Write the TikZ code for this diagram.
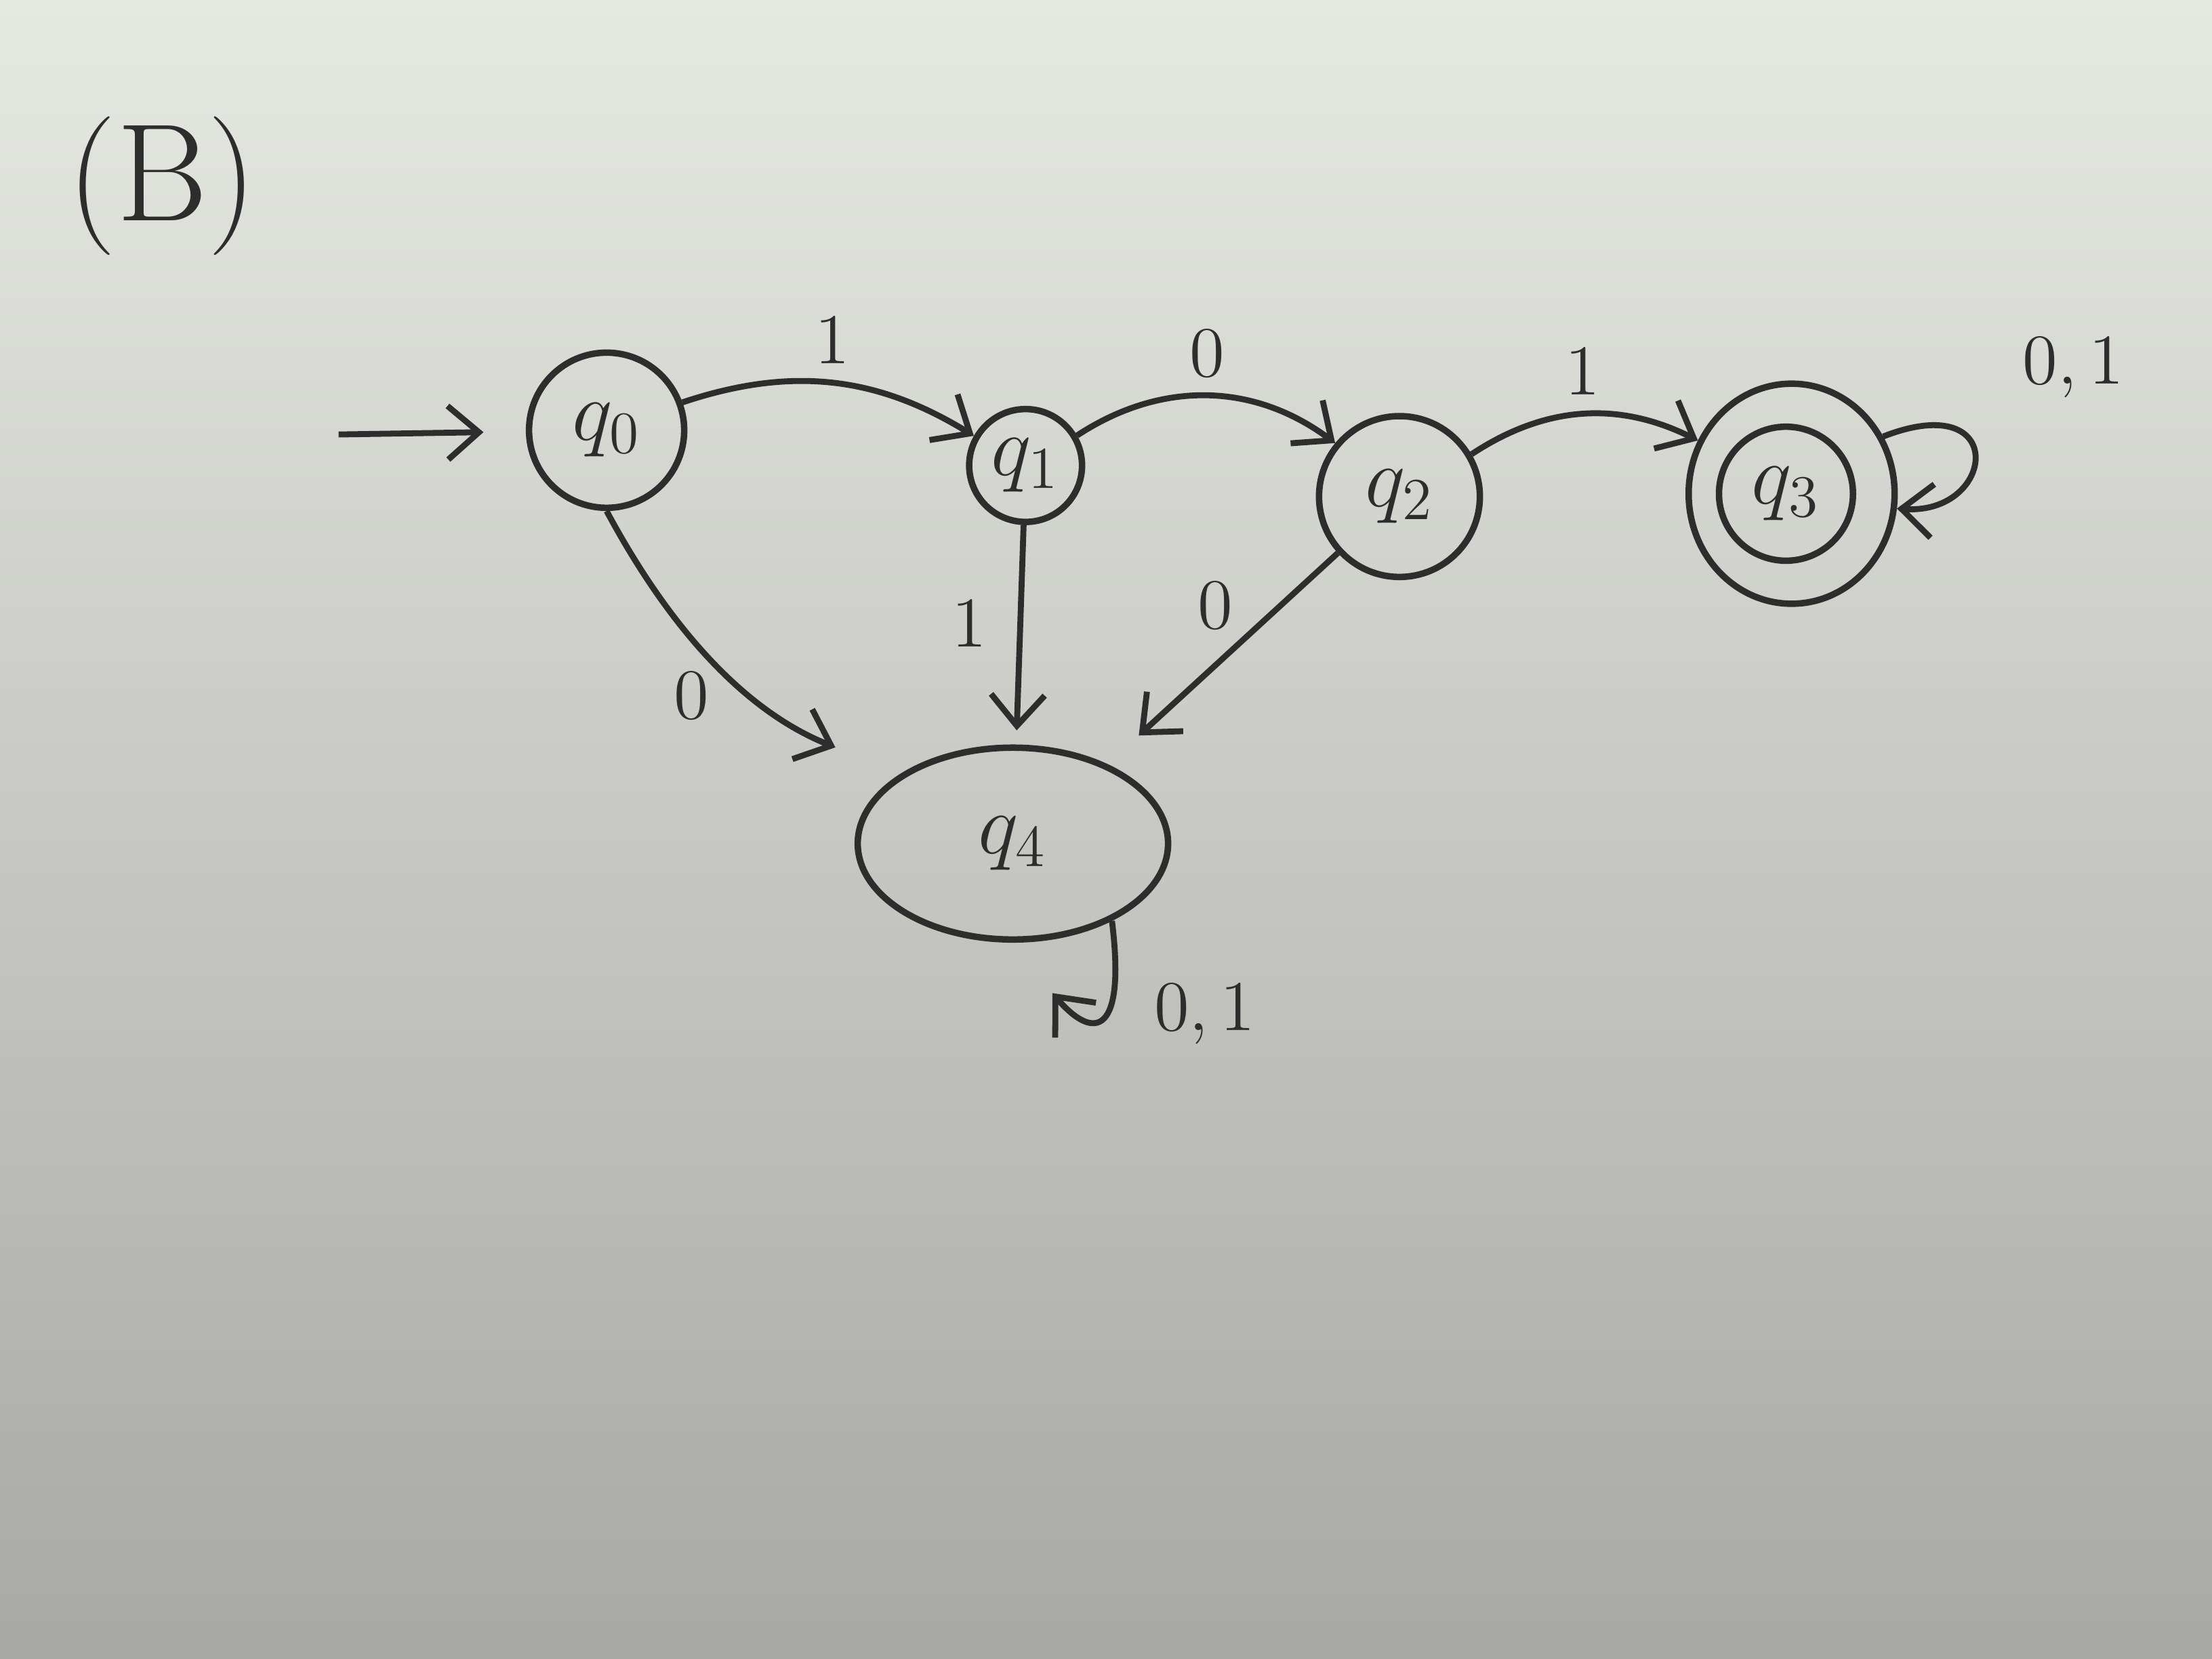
\documentclass[tikz,border=0pt]{standalone}
\usepackage{amsmath}
\usepackage{tikz}
\usetikzlibrary{positioning,shapes.geometric,arrows.meta}

\definecolor{papertop}{RGB}{230,232,226}
\definecolor{paperbottom}{RGB}{168,168,164}
\definecolor{ink}{RGB}{45,45,45}

\begin{document}
\begin{tikzpicture}[
        >={Straight Barb[length=2.2mm, width=3.8mm]},
        statenode/.style={circle, text=ink, draw=ink, line width=1.3pt, inner sep=0pt, font=\LARGE},
        ringnode/.style={ellipse, draw=ink, line width=1.3pt, inner sep=0pt},
        trapnode/.style={ellipse, text=ink, draw=ink, line width=1.3pt, minimum width=22mm, minimum height=13.6mm, font=\LARGE},
        edgelabel/.style={text=ink, font=\Large},
        edge/.style={draw=ink, line width=1.2pt, ->},
]
        % paper
        \shade[top color=papertop, bottom color=paperbottom] (0,0) rectangle (15.68,11.76);
        \useasboundingbox (0,0) rectangle (15.68,11.76);

        \node[text=ink, font=\fontsize{28}{34}\selectfont] (title) at (1.15,10.44) {(B)};

        \node[statenode, minimum size=11mm] (qzero) at (4.30,8.71) {$q_0$};
        \node[statenode, minimum size=8mm] (qone) at (7.27,8.46) {$q_1$};
        \node[statenode, minimum size=11.4mm] (qtwo) at (9.92,8.24) {$q_2$};
        \node[statenode, minimum size=9.5mm] (qthree) at (12.66,8.26) {$q_3$};
        \node[ringnode, minimum width=14.6mm, minimum height=15.6mm] (qthreering) at (12.70,8.26) {};
        \node[trapnode] (qfour) at (7.18,5.78) {$q_4$};

        \coordinate (start) at (2.40,8.68);
        \coordinate (loopend) at (7.46,4.72);

        \draw[edge, shorten >=3mm] (start) -- (qzero);
        \draw[edge] (qzero) to[bend left=25] node[edgelabel, above] {$1$} (qone);
        \draw[edge] (qone) to[bend left=35] node[edgelabel, above] {$0$} (qtwo);
        \draw[edge] (qtwo) to[bend left=30] node[edgelabel, above] {$1$} (qthreering);
        \draw[edge] (qthreering.32) .. controls +(0.9,0.35) and +(0.7,-0.05) .. (qthreering.-8)
                node[edgelabel, pos=0.3, above right=1mm and 3mm] {$0,1$};

        \draw[edge, shorten >=5mm] (qzero.south) to[bend right=20] node[edgelabel, left=2mm, pos=0.6] {$0$} (qfour.north west);
        \draw[edge, shorten >=1mm] (qone) -- node[edgelabel, left=1mm, pos=0.45] {$1$} (qfour);
        \draw[edge, shorten >=3mm] (qtwo) -- node[edgelabel, left=2mm, pos=0.25] {$0$} (qfour.40);
        \draw[edge] (qfour.-38) .. controls +(0.1,-0.8) and +(0.3,-0.35) .. (loopend)
                node[edgelabel, pos=0.45, right=2mm] {$0,1$};
\end{tikzpicture}
\end{document}
